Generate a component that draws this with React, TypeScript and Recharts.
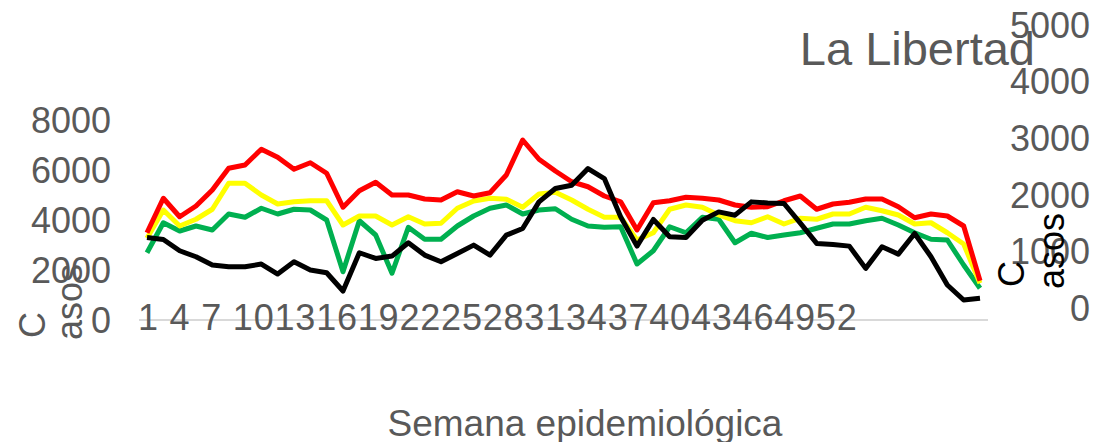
import { LineChart, Line, XAxis, YAxis } from 'recharts';

// semanas epidemiológicas
const weeks = [
  1, 2, 3, 4, 5, 6, 7, 8, 9, 10, 11, 12, 13, 14, 15, 16, 17, 18, 19, 20, 21, 22, 23, 24, 25, 26,
  27, 28, 29, 30, 31, 32, 33, 34, 35, 36, 37, 38, 39, 40, 41, 42, 43, 44, 45, 46, 47, 48, 49, 50, 51, 52,
];

const xLabels = ['1', '4', '7', '10', '13', '16', '19', '22', '25', '28', '31', '34', '37', '40', '43', '46', '49', '52'];
const leftTicks = [0, 2000, 4000, 6000, 8000];
const rightTicks = [0, 1000, 2000, 3000, 4000, 5000];

// left axis
const epidemia = [
  3490, 4870, 4130, 4560, 5200, 6070, 6200, 6830, 6510, 6030, 6290, 5870, 4510, 5170, 5510, 5000, 5000,
  4840, 4800, 5130, 4960, 5090, 5800, 7200, 6430, 5960, 5530, 5330, 4960, 4730, 3600, 4690, 4770, 4910,
  4870, 4800, 4600, 4510, 4530, 4770, 4960, 4430, 4640, 4710, 4840, 4840, 4530, 4090, 4240, 4160, 3760, 1570,
];
const alarma = [
  3270, 4400, 3760, 4030, 4430, 5470, 5470, 5000, 4640, 4730, 4770, 4770, 3800, 4160, 4160, 3800, 4130,
  3840, 3870, 4470, 4760, 4870, 4830, 4510, 5040, 5110, 4800, 4430, 4110, 4110, 3200, 3490, 4430, 4600,
  4510, 4200, 3970, 3890, 4130, 3840, 4070, 4030, 4240, 4240, 4510, 4370, 4200, 3840, 3890, 3490, 3040, 1470,
];
const seguridad = [
  2690, 3890, 3560, 3760, 3600, 4240, 4110, 4470, 4240, 4430, 4400, 4000, 1930, 3970, 3400, 1870, 3710,
  3230, 3230, 3760, 4160, 4470, 4600, 4240, 4400, 4450, 4030, 3760, 3710, 3730, 2240, 2770, 3730, 3490,
  4110, 4030, 3090, 3470, 3300, 3400, 3490, 3670, 3840, 3840, 3970, 4070, 3800, 3490, 3230, 3200, 2200, 1270,
];
// right axis
const casos = [
  1247, 1211, 1011, 905, 758, 728, 728, 776, 600, 817, 670, 623, 300, 976, 876, 917, 1152,
  935, 817, 964, 1111, 935, 1287, 1405, 1875, 2111, 2169, 2464, 2287, 1610, 1093, 1564, 1258, 1247,
  1552, 1698, 1640, 1875, 1857, 1846, 1500, 1141, 1123, 1093, 700, 1081, 952, 1317, 905, 406, 141, 171,
];

const data = weeks.map((w, i) => ({
  semana: w,
  epidemia: epidemia[i],
  alarma: alarma[i],
  seguridad: seguridad[i],
  casos: casos[i],
}));

const gray = '#595959';
const font = '"Liberation Sans", Arial, sans-serif';

function WeekTicks(props: any) {
  const { x, y, index } = props;
  if (index !== 0) return <g />;
  // excel squeezes the labels together
  const text = xLabels.map((l) => (l.length < 2 ? l + ' ' : l)).join('');
  return (
    <text x={x - 9} y={y + 10} fill={gray} fontSize={36} letterSpacing={0.8} textAnchor="start">
      {text}
    </text>
  );
}

function RightTick(props: any) {
  const { y, payload } = props;
  return (
    <text x={1090} y={y} dy="0.355em" fill={gray} fontSize={36} textAnchor="end">
      {payload.value}
    </text>
  );
}

export default function App() {
  return (
    <div style={{ position: 'absolute', left: 0, top: 0, width: 1094, height: 442, fontFamily: font, background: '#fff' }}>
      <LineChart width={1094} height={442} data={data} margin={{ top: 25, right: 0, bottom: 62, left: 0 }}>
        <XAxis
          dataKey="semana"
          interval={0}
          padding={{ left: 8, right: 8 }}
          tickLine={false}
          tickSize={0}
          tickMargin={0}
          height={60}
          axisLine={{ stroke: '#d9d9d9', strokeWidth: 2 }}
          tick={<WeekTicks />}
        />
        <YAxis
          yAxisId="left"
          width={139}
          domain={[0, 11800]}
          ticks={leftTicks}
          axisLine={false}
          tickLine={false}
          tickSize={0}
          tickMargin={28}
          tick={{ fill: gray, fontSize: 36 }}
        />
        <YAxis
          yAxisId="right"
          orientation="right"
          width={106}
          domain={[-212, 5000]}
          ticks={rightTicks}
          axisLine={false}
          tickLine={false}
          tick={<RightTick />}
        />
        <Line yAxisId="left" dataKey="seguridad" stroke="#00b050" strokeWidth={5} strokeLinejoin="round" dot={false} activeDot={false} isAnimationActive={false} />
        <Line yAxisId="left" dataKey="alarma" stroke="#ffff00" strokeWidth={5} strokeLinejoin="round" dot={false} activeDot={false} isAnimationActive={false} />
        <Line yAxisId="left" dataKey="epidemia" stroke="#ff0000" strokeWidth={5} strokeLinejoin="round" dot={false} activeDot={false} isAnimationActive={false} />
        <Line yAxisId="right" dataKey="casos" stroke="#000000" strokeWidth={5} strokeLinejoin="round" dot={false} activeDot={false} isAnimationActive={false} />
      </LineChart>
      <svg width={1094} height={442} style={{ position: 'absolute', left: 0, top: 0, pointerEvents: 'none' }}>
        <text x={1035} y={65} textAnchor="end" fontSize={47} fill={gray}>La Libertad</text>
        <text x={585} y={436} textAnchor="middle" fontSize={37} fill={gray}>Semana epidemiológica</text>
        <g transform="rotate(-90)" fontSize={36} fill={gray}>
          <text x={-338} y={45}>C</text>
          <text x={-340} y={82}>asos</text>
        </g>
        <g transform="rotate(-90)" fontSize={36} fill="#000">
          <text x={-287} y={1024}>C</text>
          <text x={-289} y={1064}>asos</text>
        </g>
      </svg>
    </div>
  );
}
